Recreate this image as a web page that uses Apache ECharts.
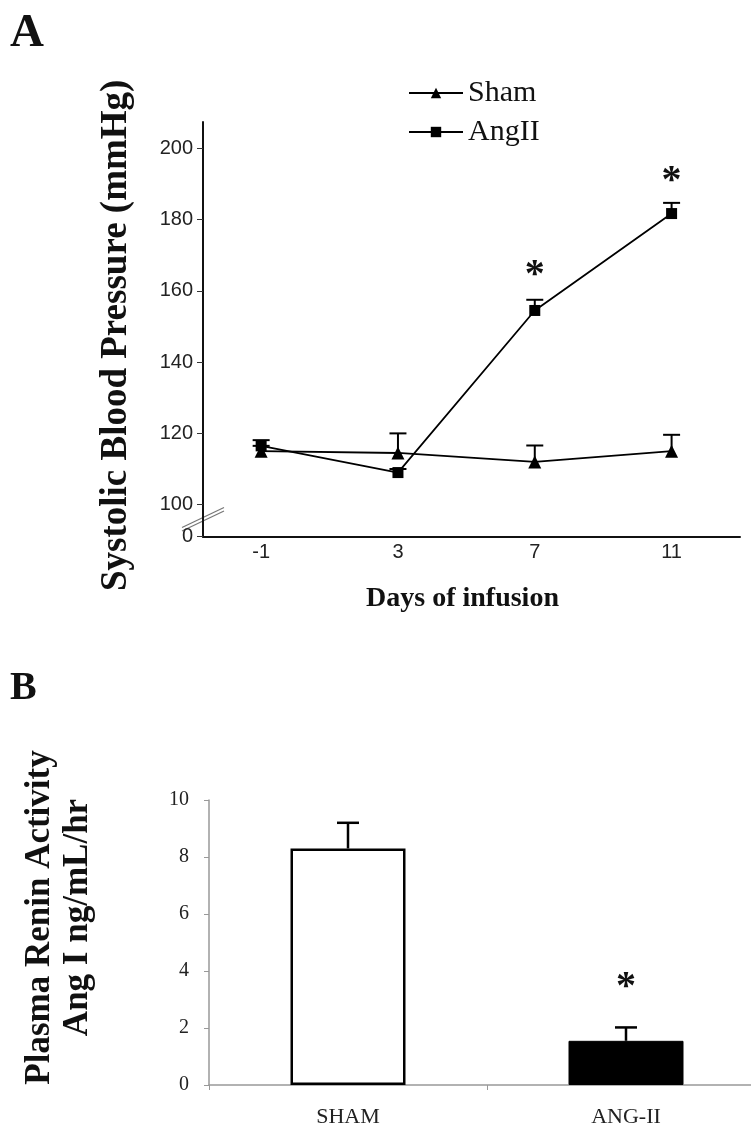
<!DOCTYPE html>
<html>
<head>
<meta charset="utf-8">
<script src="https://cdn.jsdelivr.net/npm/echarts@6/dist/echarts.min.js"></script>
<style>
html,body{margin:0;padding:0;background:#fff;}
#chart{width:751px;height:1141px;}
</style>
</head>
<body>
<div id="chart"></div>
<script>
// ---- Panel A data ----
const days = [-1, 3, 7, 11];
const shamBP = [115, 114.5, 112, 115];
const shamBPErr = [1.5, 5.5, 4.6, 4.6];
const angBP = [116.5, 109, 154.5, 181.7];
const angBPErr = [1.6, 1, 3, 3];
const bpTickValues = [100, 120, 140, 160, 180, 200];
const bpAxisFloor = 91;          // bottom of broken axis, labelled "0"
const sigDays = [7, 11];
const sigBP = [166.5, 193];
// ---- Panel B data ----
const groups = ['SHAM', 'ANG-II'];
const renin = [8.3, 1.55];
const reninErr = [0.9, 0.47];
const reninSigGroup = [1];
const reninSigValue = [3.7];

const chart = echarts.init(document.getElementById('chart'), null, {renderer: 'canvas'});

const serif = "'Liberation Serif', 'Times New Roman', serif";
const sans = "'Liberation Sans', Arial, sans-serif";

function errRender(capW, lw) {
  return function (params, api) {
    const x = api.value(0), y = api.value(1), e = api.value(2);
    const p0 = api.coord([x, y]);
    const p1 = api.coord([x, y + e]);
    const st = {stroke: '#000', lineWidth: lw};
    return {type: 'group', children: [
      {type: 'line', shape: {x1: p0[0], y1: p0[1], x2: p1[0], y2: p1[1]}, style: st},
      {type: 'line', shape: {x1: p1[0] - capW / 2, y1: p1[1], x2: p1[0] + capW / 2, y2: p1[1]}, style: st}
    ]};
  };
}
function starRender(params, api) {
  const p = api.coord([api.value(0), api.value(1)]);
  return {type: 'text', x: p[0], y: p[1] + 8, style: {
    text: '*', font: 'bold 40px ' + serif, fill: '#111', align: 'center', verticalAlign: 'middle'
  }};
}

const option = {
  backgroundColor: '#fff',
  animation: false,
  title: [
    {text: 'A', left: 10, top: 10, padding: 0, textStyle: {fontFamily: serif, fontSize: 47, fontWeight: 'bold', color: '#111'}},
    {text: 'B', left: 10, top: 669, padding: 0, textStyle: {fontFamily: serif, fontSize: 40, fontWeight: 'bold', color: '#111'}}
  ],
  legend: {
    data: ['Sham', 'AngII'],
    orient: 'vertical',
    left: 408, top: 78,
    itemWidth: 54, itemHeight: 13, itemGap: 9,
    padding: 0,
    textStyle: {fontFamily: serif, fontSize: 30, color: '#111'}
  },
  grid: [
    {left: 203, top: 122, right: 11, height: 414.7, outerBoundsMode: 'none'},
    {left: 209, top: 800, width: 556, height: 285, outerBoundsMode: 'none'}
  ],
  xAxis: [
    {
      type: 'value', gridIndex: 0, min: -2.7, max: 13,
      name: 'Days of infusion', nameLocation: 'middle', nameGap: 48,
      nameTextStyle: {fontFamily: serif, fontSize: 28, fontWeight: 'bold', color: '#111', padding: [0, 18, 0, 0]},
      axisLine: {onZero: false, lineStyle: {color: '#111', width: 2}},
      axisTick: {show: false},
      splitLine: {show: false},
      axisLabel: {customValues: days, fontFamily: sans, fontSize: 20, color: '#222', margin: 6}
    },
    {
      type: 'category', gridIndex: 1, data: groups,
      axisLine: {lineStyle: {color: '#999', width: 1.5}},
      axisTick: {show: true, length: 5, lineStyle: {color: '#999'}},
      axisLabel: {fontFamily: serif, fontSize: 22, color: '#222', margin: 21}
    }
  ],
  yAxis: [
    {
      type: 'value', gridIndex: 0, min: bpAxisFloor, max: 207.4,
      name: 'Systolic Blood Pressure (mmHg)', nameLocation: 'middle', nameRotate: 90, nameGap: 68,
      nameTextStyle: {fontFamily: serif, fontSize: 37, fontWeight: 'bold', color: '#111', padding: [0, 12, 0, 0]},
      axisLine: {show: true, onZero: false, lineStyle: {color: '#111', width: 2}},
      axisTick: {show: true, length: 6, customValues: [bpAxisFloor].concat(bpTickValues), lineStyle: {color: '#333'}},
      splitLine: {show: false},
      axisLabel: {
        customValues: [bpAxisFloor].concat(bpTickValues),
        formatter: function (v) { return v < 100 ? '0' : String(v); },
        fontFamily: sans, fontSize: 20, color: '#222', margin: 10
      }
    },
    {
      type: 'value', gridIndex: 1, min: 0, max: 10, interval: 2,
      name: 'Plasma Renin Activity\nAng I ng/mL/hr', nameLocation: 'middle', nameRotate: 90, nameGap: 112,
      nameTextStyle: {fontFamily: serif, fontSize: 35, fontWeight: 'bold', color: '#111', lineHeight: 38, padding: [0, 0, 0, 50]},
      axisLine: {show: true, onZero: false, lineStyle: {color: '#999', width: 1.5}},
      axisTick: {show: true, length: 5, lineStyle: {color: '#999'}},
      splitLine: {show: false},
      axisLabel: {fontFamily: serif, fontSize: 20, color: '#222', margin: 20}
    }
  ],
  series: [
    {
      name: 'Sham', type: 'line', xAxisIndex: 0, yAxisIndex: 0,
      data: days.map((d, i) => [d, shamBP[i]]),
      symbol: 'triangle', symbolSize: 13,
      lineStyle: {color: '#000', width: 1.8},
      itemStyle: {color: '#000'}, z: 3
    },
    {
      name: 'AngII', type: 'line', xAxisIndex: 0, yAxisIndex: 0,
      data: days.map((d, i) => [d, angBP[i]]),
      symbol: 'rect', symbolSize: 11,
      lineStyle: {color: '#000', width: 1.8},
      itemStyle: {color: '#000'}, z: 3
    },
    {
      type: 'custom', xAxisIndex: 0, yAxisIndex: 0, silent: true,
      renderItem: errRender(17, 2),
      data: days.map((d, i) => [d, shamBP[i], shamBPErr[i]]).concat(days.map((d, i) => [d, angBP[i], angBPErr[i]])),
      z: 2
    },
    {
      type: 'custom', xAxisIndex: 0, yAxisIndex: 0, silent: true,
      renderItem: starRender,
      data: sigDays.map((d, i) => [d, sigBP[i]]),
      z: 4
    },
    {
      type: 'bar', xAxisIndex: 1, yAxisIndex: 1, barWidth: 115,
      data: renin.map((v, i) => ({
        value: v,
        itemStyle: i === 0 ? {color: '#fff', borderColor: '#000', borderWidth: 2.5} : {color: '#000', borderColor: '#000', borderWidth: 1}
      })),
      z: 2
    },
    {
      type: 'custom', xAxisIndex: 1, yAxisIndex: 1, silent: true,
      renderItem: errRender(22, 2.5),
      data: renin.map((v, i) => [i, v, reninErr[i]]),
      z: 3
    },
    {
      type: 'custom', xAxisIndex: 1, yAxisIndex: 1, silent: true,
      renderItem: starRender,
      data: reninSigGroup.map((g, i) => [g, reninSigValue[i]]),
      z: 4
    }
  ]
};
chart.setOption(option);

// axis-break marks on panel A's y axis
const bc = chart.convertToPixel({xAxisIndex: 0, yAxisIndex: 0}, [-2.7, 96.4]);
const breakLines = [0, 1].map(k => ({
  type: 'line',
  shape: {x1: bc[0] - 21, y1: bc[1] + 10 + k * 3.5, x2: bc[0] + 21, y2: bc[1] - 10 + k * 3.5},
  style: {stroke: '#777', lineWidth: 1.2}
}));
chart.setOption({graphic: breakLines});
</script>
</body>
</html>
